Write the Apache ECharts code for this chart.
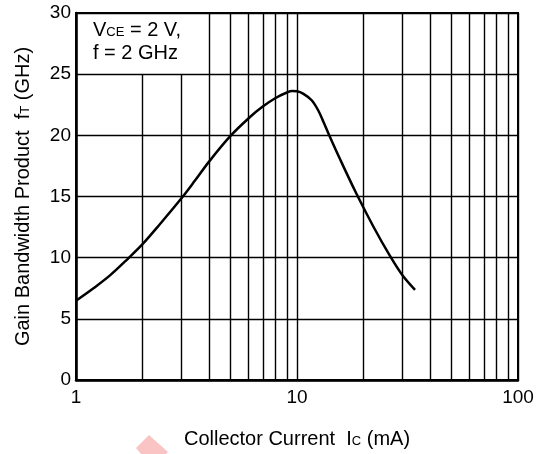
<!DOCTYPE html>
<html>
<head>
<meta charset="utf-8">
<script src="https://cdn.jsdelivr.net/npm/echarts@6/dist/echarts.min.js"></script>
<style>
  html, body { margin: 0; padding: 0; background: #fff; }
  #chart { width: 545px; height: 454px; }
</style>
</head>
<body>
<div id="chart"></div>
<script>
// Collector current (mA) and transition frequency fT (GHz), VCE = 2 V, f = 2 GHz
const collectorCurrent = [1, 1.2, 1.425, 1.725, 2, 2.4, 3, 3.455, 4, 5, 6.13, 7, 8, 9, 9.5, 10, 10.7, 11.65, 12.5, 13.15, 13.86, 15.65, 18.63, 22.15, 26.35, 30, 34.2];
const gainBandwidth   = [6.48, 7.5, 8.55, 9.95, 11.1, 12.75, 14.85, 16.3, 17.85, 19.95, 21.5, 22.35, 23.05, 23.5, 23.62, 23.6, 23.39, 22.87, 22.01, 21.13, 20.17, 18.06, 15.18, 12.55, 10.14, 8.56, 7.37];

// Minor log-decade grid positions
const minorFull = [4, 5, 6, 7, 8, 9, 20, 30, 40, 50, 60, 70, 80, 90];
const minorShort = [2, 3];       // these stop under the condition box
const shortTop = 25;
const yMin = 0, yMax = 30, yStep = 5;

const gridLines = [];
minorFull.forEach(v => gridLines.push([{ coord: [v, yMin] }, { coord: [v, yMax] }]));
minorShort.forEach(v => gridLines.push([{ coord: [v, yMin] }, { coord: [v, shortTop] }]));

const font = '"Liberation Sans", Arial, Helvetica, sans-serif';
const nameRich = {
  a: { fontFamily: font, fontSize: 20, color: '#000' },
  s: { fontFamily: font, fontSize: 13, color: '#000', padding: [4, 0, 0, 0] }
};
const chart = echarts.init(document.getElementById('chart'));

chart.setOption({
  backgroundColor: '#fff',
  animation: false,
  grid: {
    left: 76, right: 27, top: 13, bottom: 74,
    show: true, borderColor: '#000', borderWidth: 2, backgroundColor: 'transparent'
  },
  xAxis: {
    type: 'log', logBase: 10, min: 1, max: 100,
    name: '{a|Collector Current  I}{s|C}{a| (mA)}',
    nameLocation: 'middle', nameGap: 49,
    nameTextStyle: { rich: nameRich },
    axisLine: { show: true, lineStyle: { color: '#000', width: 2.5 } },
    axisTick: { show: false },
    axisLabel: { fontFamily: font, fontSize: 19, color: '#000', margin: 8 },
    splitLine: { show: true, lineStyle: { color: '#000', width: 1.4 } }
  },
  yAxis: {
    type: 'value', min: yMin, max: yMax, interval: yStep,
    name: '{a|Gain Bandwidth Product  f}{s|T}{a| (GHz)}',
    nameLocation: 'middle', nameGap: 43,
    nameTextStyle: { rich: nameRich },
    axisLine: { show: true, lineStyle: { color: '#000', width: 2.5 } },
    axisTick: { show: false },
    axisLabel: { fontFamily: font, fontSize: 19, color: '#000', margin: 5 },
    splitLine: { show: true, lineStyle: { color: '#000', width: 1.4 } }
  },
  series: [
    {
      type: 'line',
      data: collectorCurrent.map((x, i) => [x, gainBandwidth[i]]),
      smooth: 0.35,
      showSymbol: false,
      lineStyle: { color: '#000', width: 2.5 },
      z: 5,
      markLine: {
        silent: true,
        symbol: ['none', 'none'],
        label: { show: false },
        lineStyle: { color: '#000', width: 1.4, type: 'solid' },
        data: gridLines,
        z: 1
      }
    }
  ],
  graphic: [
    {
      type: 'text', left: 93, top: 20,
      style: {
        text: '{a|V}{s|CE}{a| = 2 V,}\n{a|f = 2 GHz}',
        rich: {
          a: { fontFamily: font, fontSize: 20, fill: '#000', lineHeight: 23 },
          s: { fontFamily: font, fontSize: 13, fill: '#000', padding: [5, 0, 0, 0], lineHeight: 23 }
        }
      }
    },
    {
      type: 'polygon', silent: true,
      shape: { points: [[136, 448], [149, 435], [168, 452], [166, 454], [141, 454]] },
      style: { fill: '#fbc4c4' }
    }
  ]
});
</script>
</body>
</html>
